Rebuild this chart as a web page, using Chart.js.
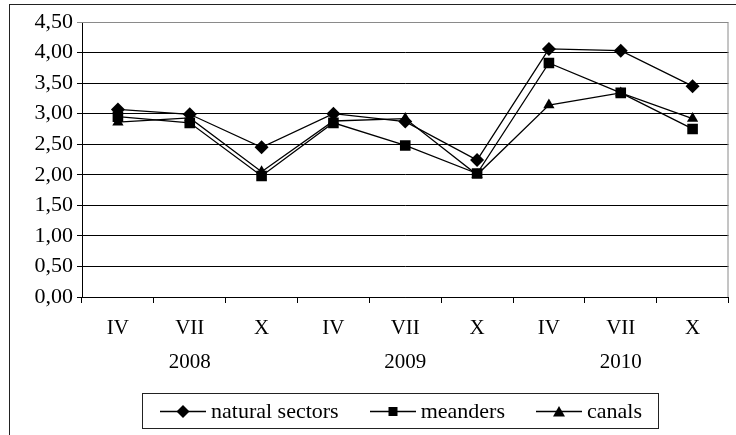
<!DOCTYPE html>
<html>
<head>
<meta charset="utf-8">
<script src="https://cdn.jsdelivr.net/npm/chart.js@4.4.0/dist/chart.umd.min.js"></script>
<style>
html, body { margin: 0; padding: 0; background: #fff; overflow: hidden; }
#wrap { position: relative; width: 736px; height: 435px; }
#frame { position: absolute; left: 9px; top: 4px; width: 800px; height: 500px; border: 1px solid #222; }
#myChart { position: absolute; left: 0; top: 0; }
#legend { position: absolute; left: 142px; top: 393px; width: 517px; height: 36px; border: 1px solid #222;
  box-sizing: border-box; display: flex; align-items: center; padding-left: 17px; white-space: nowrap;
  font-family: "Liberation Serif", serif; font-size: 22px; color: #000; }
#legend .item { display: flex; align-items: center; flex-shrink: 0; margin-right: 31px; }
#legend .item:last-child { margin-right: 0; }
#legend svg { margin-right: 5px; flex-shrink: 0; }
</style>
</head>
<body>
<div id="wrap">
  <div id="frame"></div>
  <canvas id="myChart" width="736" height="435"></canvas>
  <div id="legend"></div>
</div>
<script>
var months = ['IV', 'VII', 'X', 'IV', 'VII', 'X', 'IV', 'VII', 'X'];
var years = ['', '2008', '', '', '2009', '', '', '2010', ''];

var naturalSectors = [3.07, 2.99, 2.45, 3.00, 2.87, 2.24, 4.06, 4.03, 3.45];
var meanders = [2.95, 2.85, 1.98, 2.85, 2.48, 2.02, 3.83, 3.34, 2.75];
var canals = [2.86, 2.93, 2.05, 2.88, 2.92, 2.00, 3.14, 3.34, 2.92];

var seriesNames = ['natural sectors', 'meanders', 'canals'];
var seriesMarkers = ['rectRot', 'rect', 'triangle'];

var labels = months.map(function (m, i) { return [m, years[i]]; });

var fontFamily = '"Liberation Serif", serif';

function makeSet(name, values, marker, radius) {
    return {
        label: name,
        data: values,
        borderColor: '#000',
        backgroundColor: '#000',
        borderWidth: 1.3,
        pointStyle: marker,
        pointRadius: radius,
        pointBackgroundColor: '#000',
        pointBorderColor: '#000',
        pointBorderWidth: 0,
        tension: 0
    };
}

// grey frame around the plot area (top and right side)
var plotFrame = {
    id: 'plotFrame',
    beforeDatasetsDraw: function (chart) {
        var a = chart.chartArea, c = chart.ctx;
        c.save();
        c.strokeStyle = '#8a8a8a';
        c.lineWidth = 1;
        c.beginPath();
        c.moveTo(a.left, a.top + 0.5);
        c.lineTo(a.right - 0.5, a.top + 0.5);
        c.lineTo(a.right - 0.5, a.bottom);
        c.stroke();
        c.restore();
    }
};

var ctx = document.getElementById('myChart').getContext('2d');
var myChart = new Chart(ctx, {
    type: 'line',
    data: {
        labels: labels,
        datasets: [
            makeSet(seriesNames[0], naturalSectors, seriesMarkers[0], 7),
            makeSet(seriesNames[1], meanders, seriesMarkers[1], 7.5),
            makeSet(seriesNames[2], canals, seriesMarkers[2], 6.5)
        ]
    },
    options: {
        responsive: false,
        animation: false,
        layout: { padding: { left: 10, right: 5, top: 22, bottom: 58 } },
        plugins: {
            legend: { display: false },
            tooltip: { enabled: false }
        },
        scales: {
            x: {
                offset: true,
                grid: { offset: true, drawOnChartArea: false, drawTicks: true, tickLength: 6, color: '#000' },
                border: { color: '#000', width: 1 },
                ticks: {
                    color: '#000',
                    font: { family: fontFamily, size: 21, lineHeight: 1.62 },
                    padding: 8,
                    maxRotation: 0,
                    autoSkip: false
                },
                afterFit: function (scale) { scale.height = 80; }
            },
            y: {
                min: 0,
                max: 4.5,
                grid: {
                    color: function (c) { return c.tick && c.tick.value === 4.5 ? '#8a8a8a' : '#000'; },
                    tickLength: 5
                },
                border: { color: '#000', width: 1 },
                ticks: {
                    stepSize: 0.5,
                    color: '#000',
                    font: { family: fontFamily, size: 22 },
                    padding: 4,
                    callback: function (v) { return v.toFixed(2).replace('.', ','); }
                },
                afterFit: function (scale) { scale.width = 72; }
            }
        }
    },
    plugins: [plotFrame]
});

// legend as html, with line + marker symbols
var shapes = {
    rectRot: '<polygon points="23,1 29.5,7.5 23,14 16.5,7.5" fill="#000"/>',
    rect: '<rect x="18.5" y="3" width="9" height="9" fill="#000"/>',
    triangle: '<polygon points="23,2 29,12.5 17,12.5" fill="#000"/>'
};
var legendHtml = '';
seriesNames.forEach(function (name, i) {
    legendHtml += '<div class="item"><svg width="46" height="15">' +
        '<line x1="0" y1="7.5" x2="46" y2="7.5" stroke="#000" stroke-width="1.3"/>' +
        shapes[seriesMarkers[i]] + '</svg><span>' + name + '</span></div>';
});
document.getElementById('legend').innerHTML = legendHtml;
</script>
</body>
</html>
